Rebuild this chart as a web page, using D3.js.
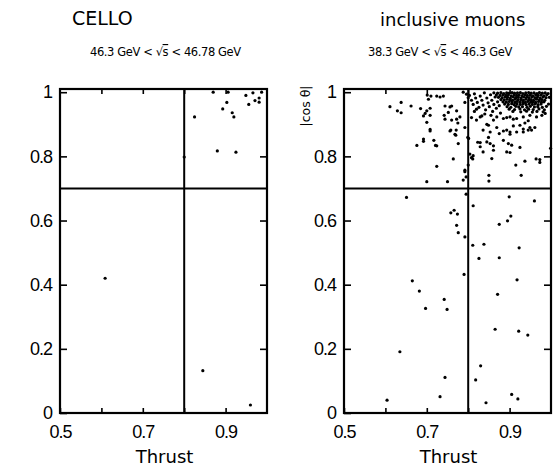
<!DOCTYPE html>
<html>
<head>
<meta charset="utf-8">
<script src="https://cdn.jsdelivr.net/npm/d3@7"></script>
<style>
  body { margin: 0; background: #fff; }
  svg { display: block; }
  .num { font-family: "Liberation Sans", Arial, sans-serif; font-size: 18px; letter-spacing: -1px; fill: #000; }
  .lbl { font-family: "DejaVu Sans", sans-serif; fill: #000; }
</style>
</head>
<body>
<svg width="554" height="467"></svg>
<script>
// tick values and cut positions
var xTicks = [0.5, 0.6, 0.7, 0.8, 0.9];
var xLabels = [0.5, 0.7, 0.9];
var yTicks = [0, 0.2, 0.4, 0.6, 0.8, 1];
var thrustCut = 0.8, cosCut = 0.7;

// CELLO, 46.3 GeV < sqrt(s) < 46.78 GeV : [thrust, |cos theta|]
var celloPoints = [
  [0.825,0.923],[0.893,0.948],[0.903,0.968],[0.916,0.936],[0.920,0.923],[0.949,0.990],
  [0.956,0.962],[0.971,0.974],[0.981,0.982],[0.981,0.969],[0.880,0.817],[0.925,0.813],
  [0.800,0.798],[0.609,0.420],[0.845,0.132],[0.960,0.025],[0.870,1.000],[0.906,1.000],
  [0.966,0.998],[0.987,1.000]
];

// inclusive muons, 38.3 GeV < sqrt(s) < 46.3 GeV : scattered events
var muonPoints = [
  [0.611,0.955],[0.638,0.968],[0.629,0.942],[0.638,0.936],[0.662,0.957],[0.676,0.834],
  [0.692,0.847],[0.717,0.850],[0.721,0.834],[0.708,0.884],[0.700,0.906],[0.696,0.934],
  [0.685,0.949],[0.708,0.928],[0.701,0.991],[0.724,0.769],[0.700,0.721],[0.750,0.721],
  [0.764,0.792],[0.744,0.957],[0.742,0.928],[0.756,0.954],[0.760,0.913],[0.758,0.882],
  [0.770,0.866],[0.771,0.882],[0.776,0.840],[0.780,0.923],[0.775,0.904],[0.792,0.757],
  [0.788,0.726],[0.795,0.736],[0.801,0.856],[0.811,0.792],[0.850,0.741],[0.850,0.723],
  [0.857,0.793],[0.893,0.814],[0.915,0.773],[0.928,0.741],[0.937,0.785],[0.964,0.792],
  [0.973,0.790],[0.999,0.825],[0.986,0.934],[0.692,0.926],[0.700,0.942],[0.708,0.950],
  [0.710,0.988],[0.704,0.978],[0.724,0.988],[0.732,0.985],[0.740,0.988],[0.752,0.937],
  [0.760,0.957],[0.772,0.942],[0.772,0.916],[0.744,0.916],[0.708,0.879],[0.756,0.879],
  [0.768,0.869],[0.692,0.854],[0.724,0.833],[0.792,0.968],[0.796,0.994],[0.788,1.000],
  [0.800,0.983],[0.792,0.890],[0.799,0.859],[0.804,0.807],[0.808,0.796],[0.800,0.773],
  [0.792,0.752],[0.651,0.672],[0.795,0.682],[0.812,0.646],[0.899,0.674],[0.960,0.661],
  [0.758,0.624],[0.766,0.632],[0.774,0.620],[0.772,0.585],[0.776,0.562],[0.792,0.549],
  [0.811,0.523],[0.838,0.526],[0.826,0.482],[0.875,0.588],[0.895,0.599],[0.903,0.614],
  [0.875,0.484],[0.923,0.515],[0.790,0.432],[0.665,0.412],[0.682,0.380],[0.697,0.326],
  [0.742,0.354],[0.749,0.323],[0.871,0.370],[0.918,0.415],[0.865,0.261],[0.922,0.255],
  [0.944,0.243],[0.635,0.191],[0.604,0.040],[0.744,0.111],[0.732,0.051],[0.830,0.147],
  [0.818,0.103],[0.843,0.032],[0.905,0.058],[0.920,0.044],
  [0.823,0.844],[0.829,0.830],[0.845,0.845],[0.853,0.840],[0.836,0.814],[0.861,0.819],
  [0.875,0.871],[0.885,0.850],[0.897,0.840],[0.905,0.835],[0.893,0.882],[0.901,0.876],
  [0.917,0.876],[0.933,0.876],[0.945,0.882],[0.953,0.882],[0.925,0.897],[0.937,0.904],
  [0.836,0.882],[0.849,0.897],[0.853,0.876],[0.820,0.913],[0.829,0.923],[0.861,0.913],
  [0.869,0.923],[0.885,0.918],[0.901,0.923],[0.917,0.918],[0.933,0.923],[0.949,0.928],
  [0.965,0.923],[0.978,0.928],[0.808,0.921],[0.820,0.947],[0.833,0.926],[0.845,0.900],
  [0.849,0.859],[0.829,0.843],[0.861,0.833],[0.869,0.890],[0.885,0.879],[0.901,0.869],
  [0.909,0.895],[0.933,0.885],[0.949,0.890],[0.961,0.890],[0.893,0.921],[0.909,0.916],
  [0.945,0.911],[0.994,0.963],[0.925,0.828],[0.901,0.812],[0.973,0.781],[0.812,0.802]
];

// inclusive muons: dense region near thrust ~ 1, |cos theta| ~ 1
var muonCluster = [
  [0.803,0.990],[0.808,0.975],[0.812,0.962],[0.815,0.995],[0.818,0.982],[0.822,0.968],
  [0.826,0.953],[0.829,0.988],[0.833,0.975],[0.836,0.960],[0.839,0.998],[0.842,0.945],
  [0.845,0.982],[0.848,0.967],[0.851,0.955],[0.854,0.992],[0.857,0.975],[0.859,0.940],
  [0.862,0.962],[0.865,0.985],[0.868,0.950],[0.871,0.970],[0.875,0.958],[0.878,0.935],
  [0.855,0.928],[0.840,0.932],[0.815,0.940],
  [0.862,0.998],[0.871,0.997],[0.879,0.999],[0.886,0.996],[0.893,0.998],[0.899,0.997],
  [0.906,0.999],[0.912,0.997],[0.919,0.998],[0.926,0.999],[0.932,0.996],[0.939,0.998],
  [0.946,0.999],[0.952,0.997],[0.959,0.998],[0.966,0.996],[0.972,0.999],[0.979,0.997],
  [0.986,0.998],[0.993,0.996],
  [0.868,0.991],[0.877,0.990],[0.884,0.992],[0.891,0.990],[0.897,0.991],[0.904,0.989],
  [0.911,0.992],[0.917,0.990],[0.923,0.991],[0.930,0.989],[0.937,0.992],[0.943,0.990],
  [0.950,0.991],[0.956,0.989],[0.963,0.992],[0.969,0.990],[0.976,0.991],[0.983,0.989],
  [0.990,0.992],
  [0.873,0.984],[0.882,0.983],[0.889,0.985],[0.895,0.984],[0.902,0.982],[0.909,0.985],
  [0.915,0.983],[0.921,0.984],[0.928,0.982],[0.934,0.985],[0.941,0.984],[0.947,0.983],
  [0.954,0.985],[0.961,0.983],[0.967,0.984],[0.974,0.982],[0.981,0.985],[0.988,0.983],
  [0.996,0.984],
  [0.879,0.977],[0.887,0.976],[0.894,0.978],[0.901,0.977],[0.907,0.975],[0.913,0.978],
  [0.920,0.976],[0.927,0.977],[0.933,0.975],[0.939,0.978],[0.946,0.976],[0.952,0.977],
  [0.958,0.975],[0.965,0.978],[0.972,0.976],[0.978,0.977],[0.985,0.975],
  [0.884,0.970],[0.892,0.969],[0.899,0.971],[0.906,0.970],[0.913,0.968],[0.918,0.971],
  [0.925,0.969],[0.932,0.970],[0.938,0.968],[0.944,0.971],[0.951,0.969],[0.957,0.970],
  [0.963,0.968],[0.970,0.971],[0.977,0.969],[0.983,0.970],
  [0.888,0.963],[0.897,0.962],[0.905,0.964],[0.911,0.961],[0.918,0.963],[0.926,0.962],
  [0.933,0.964],[0.940,0.961],[0.947,0.963],[0.955,0.962],[0.962,0.964],[0.969,0.961],
  [0.976,0.963],
  [0.894,0.955],[0.903,0.953],[0.915,0.956],[0.922,0.954],[0.931,0.955],[0.942,0.953],
  [0.950,0.956],[0.960,0.954],[0.968,0.955],[0.979,0.953],[0.989,0.956],
  [0.899,0.947],[0.912,0.946],[0.925,0.948],[0.936,0.945],[0.946,0.947],[0.957,0.946],
  [0.971,0.948],[0.984,0.945],
  [0.908,0.940],[0.927,0.939],[0.941,0.941],[0.955,0.938],[0.966,0.940],[0.981,0.939]
];

var svg = d3.select("svg");

var y = d3.scaleLinear().domain([0, 1.01]).range([413, 89]);

function fmt(d) {
  if (d === 0) return "0";
  if (d === 1) return "1";
  return d3.format(".1f")(d);
}

function drawPanel(x0, x1, data, showTitle) {
  var x = d3.scaleLinear().domain([0.5, 1.0]).range([x0, x1]);
  var g = svg.append("g");

  // ticks pointing inward on all four sides
  var left = g.append("g").attr("transform", "translate(" + x0 + ",0)")
    .call(d3.axisLeft(y).tickValues(yTicks).tickSize(-7).tickPadding(8).tickFormat(fmt));
  left.selectAll("text").attr("class", "num").attr("font-family", null).attr("font-size", null);
  left.select(".domain").remove();
  left.selectAll("line").attr("stroke-width", 1.6);

  var right = g.append("g").attr("transform", "translate(" + x1 + ",0)")
    .call(d3.axisRight(y).tickValues(yTicks.slice(1, 5)).tickSize(-7).tickFormat(""));
  right.select(".domain").remove();
  right.selectAll("line").attr("stroke-width", 1.6);

  var bottom = g.append("g").attr("transform", "translate(0,413)")
    .call(d3.axisBottom(x).tickValues(xTicks).tickSize(-5).tickPadding(12)
      .tickFormat(function (d) { return xLabels.indexOf(d) >= 0 ? d3.format(".1f")(d) : ""; }));
  bottom.selectAll("text").attr("class", "num").attr("font-family", null).attr("font-size", null);
  bottom.select(".domain").remove();
  bottom.selectAll("line").attr("stroke-width", 1.6);

  var top = g.append("g").attr("transform", "translate(0," + y(1.01) + ")")
    .call(d3.axisTop(x).tickValues(xTicks.slice(1)).tickSize(-5).tickFormat(""));
  top.select(".domain").remove();
  top.selectAll("line").attr("stroke-width", 1.6);

  // frame
  g.append("rect")
    .attr("x", x0).attr("y", y(1.01))
    .attr("width", x1 - x0).attr("height", y(0) - y(1.01))
    .attr("fill", "none").attr("stroke", "#000").attr("stroke-width", 2.2);

  // cut lines
  g.append("line")
    .attr("x1", x(thrustCut)).attr("x2", x(thrustCut))
    .attr("y1", y(0)).attr("y2", y(1.01))
    .attr("stroke", "#000").attr("stroke-width", 2);
  g.append("line")
    .attr("x1", x0).attr("x2", x1)
    .attr("y1", y(cosCut)).attr("y2", y(cosCut))
    .attr("stroke", "#000").attr("stroke-width", 2);

  // events
  g.append("g").selectAll("circle")
    .data(data)
    .enter()
    .append("circle")
    .attr("cx", function (d) { return x(d[0]); })
    .attr("cy", function (d) { return y(d[1]); })
    .attr("r", 1.6)
    .attr("fill", "#000");

  g.append("text")
    .attr("class", "lbl")
    .attr("x", (x0 + x1) / 2 + 1)
    .attr("y", 463)
    .attr("text-anchor", "middle")
    .attr("font-size", 18)
    .text("Thrust");

  if (showTitle) {
    g.append("text")
      .attr("class", "lbl")
      .attr("transform", "translate(" + (x0 - 34) + ",106) rotate(-90)")
      .attr("text-anchor", "middle")
      .attr("font-size", 12.5)
      .text("|cos θ|");
  }
}

drawPanel(60, 267, celloPoints, false);
drawPanel(344, 551, muonPoints.concat(muonCluster), true);

// headers
svg.append("text").attr("class", "lbl")
  .attr("x", 72).attr("y", 25).attr("font-size", 19)
  .text("CELLO");
svg.append("text").attr("class", "lbl")
  .attr("x", 380).attr("y", 26).attr("font-size", 18)
  .text("inclusive muons");

function energyRange(xPos, lo, hi) {
  var t = svg.append("text").attr("class", "lbl")
    .attr("x", xPos).attr("y", 56).attr("font-size", 11.5)
    .attr("letter-spacing", "-0.4");
  t.append("tspan").text(lo + " GeV < √");
  t.append("tspan").style("text-decoration", "overline").text("s");
  t.append("tspan").text(" < " + hi + " GeV");
}
energyRange(90, "46.3", "46.78");
energyRange(368, "38.3", "46.3");
</script>
</body>
</html>
